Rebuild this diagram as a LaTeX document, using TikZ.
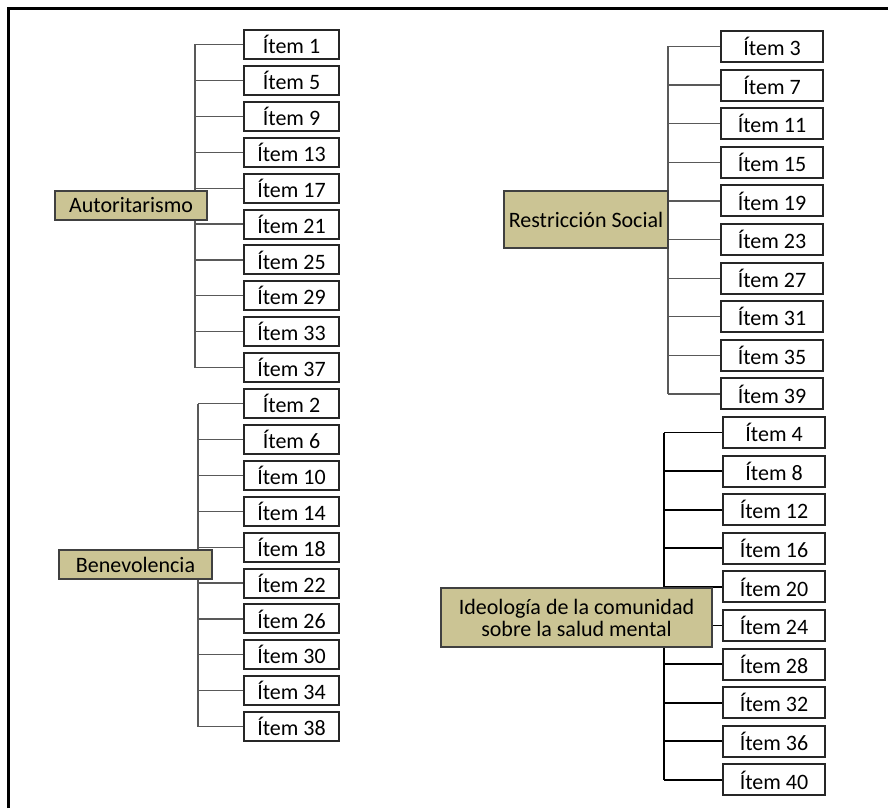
\documentclass[tikz,border=0pt]{standalone}
\usepackage{fontspec}
\setmainfont{Carlito}
\usetikzlibrary{backgrounds}
\definecolor{factorfill}{RGB}{203,196,148}

\begin{document}
\begin{tikzpicture}[x=0.5pt, y=-0.5pt,
  item/.style={rectangle, draw=black!85, line width=1pt, fill=white, minimum width=47.5pt, minimum height=14.5pt, inner sep=0pt, font=\fontsize{11}{11}\selectfont},
  wideitem/.style={item, minimum width=51pt, minimum height=15.5pt},
  factor/.style={rectangle, draw=black!75, line width=1pt, fill=factorfill, inner sep=1pt, align=center, font=\fontsize{11}{11}\selectfont},
  link/.style={draw=black!65, line width=0.6pt},
  boldlink/.style={draw=black, line width=0.9pt}
]
  \useasboundingbox (0,0) rectangle (888,808);
  % Frame (only top and left edges show)
  \draw[line width=1.5pt] (8,808) -- (8,9) -- (888,9);

  % Autoritarismo (top left)
  \node[factor, minimum width=76pt, minimum height=14.5pt] (aut) at (131,205.5) {Autoritarismo};
  \coordinate (autSpine) at (195,0);
  \foreach \n [count=\k from 0] in {1,5,...,37}
    \node[item] (aut\n) at ({291.5},{44.5+35.9*\k}) {Ítem \n};

  % Benevolencia (bottom left)
  \node[factor, minimum width=76.5pt, minimum height=14.5pt] (ben) at (135.5,564.5) {Benevolencia};
  \coordinate (benSpine) at (198,0);
  \foreach \n [count=\k from 0] in {2,6,...,38}
    \node[item] (ben\n) at ({291.5},{403.5+35.9*\k}) {Ítem \n};

  % Restriccion Social (top right)
  \node[factor, minimum width=82pt, minimum height=28.5pt] (res) at (586,219.5) {Restricción Social};
  \coordinate (resSpine) at (668,0);
  \foreach \n [count=\k from 0] in {3,7,...,39}
    \node[wideitem] (res\n) at ({772},{46.5+38.6*\k}) {Ítem \n};

  % Ideologia de la comunidad (bottom right)
  \node[factor, minimum width=135.5pt, minimum height=29.5pt] (ide) at (576.5,617.5) {Ideología de la comunidad\\sobre la salud mental};
  \coordinate (ideSpine) at (664,0);
  \foreach \n [count=\k from 0] in {4,8,...,40}
    \node[wideitem] (ide\n) at ({774},{432.5+38.6*\k}) {Ítem \n};

  % Spines and branches, behind the boxes
  \begin{scope}[on background layer]
    \draw[link] (aut1.west -| autSpine) -- (aut37.west -| autSpine);
    \foreach \n in {1,5,...,37} \draw[link] (aut\n.west -| autSpine) -- (aut\n.west);
    \draw[link] (ben2.west -| benSpine) -- (ben38.west -| benSpine);
    \foreach \n in {2,6,...,38} \draw[link] (ben\n.west -| benSpine) -- (ben\n.west);
    \draw[link] (res3.west -| resSpine) -- (res39.west -| resSpine);
    \foreach \n in {3,7,...,39} \draw[link] (res\n.west -| resSpine) -- (res\n.west);
    \draw[boldlink] (ide4.west -| ideSpine) -- (ide40.west -| ideSpine);
    \foreach \n in {4,8,...,40} \draw[boldlink] (ide\n.west -| ideSpine) -- (ide\n.west);
  \end{scope}
\end{tikzpicture}
\end{document}
